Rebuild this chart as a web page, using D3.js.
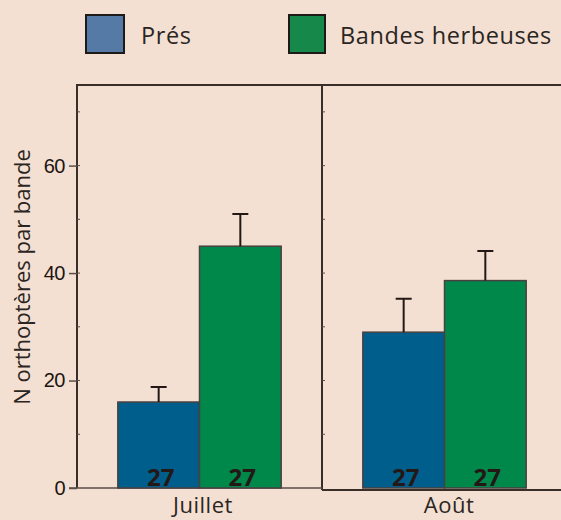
<!DOCTYPE html>
<html>
<head>
<meta charset="utf-8">
<script src="https://cdn.jsdelivr.net/npm/d3@7"></script>
<style>
  body { margin: 0; background: #f3e0d2; }
  svg { display: block; }
</style>
</head>
<body>
<div id="chart"></div>
<script>
const months = ['Juillet', 'Août'];
const seriesNames = ['Prés', 'Bandes herbeuses'];
const meanValues = [[16, 45], [29, 38.6]];     // [month][series]
const errorTops = [[18.8, 51], [35.2, 44.1]];
const sampleSizes = [[27, 27], [27, 27]];
const yTicks = [0, 20, 40, 60];

const width = 561;
const height = 520;
const colors = ['#005e8c', '#00874a'];
const legendColors = ['#557aa6', '#16884a'];
const font = 'Open Sans, Noto Sans, sans-serif';

const svg = d3.select('#chart')
    .append('svg')
    .attr('width', width)
    .attr('height', height);

svg.append('rect').attr('width', width).attr('height', height).attr('fill', '#f3e0d2');

const yScale = d3.scaleLinear().domain([0, 75]).range([488, 85]);

// panels
const panelX = d3.scaleBand().domain(months).range([77, 567]).padding(0);
const barX = d3.scaleBand().domain(seriesNames).range([0, panelX.bandwidth()]).paddingInner(0).paddingOuter(0.5);

// panel frames
const p0 = panelX(months[0]);
const p1 = panelX(months[1]);
svg.append('path')
    .attr('d', `M${p0},${yScale(0)}V${yScale(75)}H${p1}V${yScale(0) + 2}`)
    .attr('fill', 'none').attr('stroke', '#3a2e28').attr('stroke-width', 2);
svg.append('path')
    .attr('d', `M${p1},${yScale(75)}H${width}M${p1},${yScale(0) + 2}H${width}`)
    .attr('fill', 'none').attr('stroke', '#3a2e28').attr('stroke-width', 2);
svg.append('line')
    .attr('x1', 69).attr('x2', p1).attr('y1', yScale(0)).attr('y2', yScale(0))
    .attr('stroke', '#5a4e48').attr('stroke-width', 1.5);

// y axis
const yAxis = d3.axisLeft(yScale).tickValues(yTicks).tickSize(8).tickPadding(4);
const gy = svg.append('g').attr('transform', `translate(${p0},0)`).call(yAxis);
gy.select('.domain').remove();
gy.selectAll('.tick line').attr('stroke', '#5a4e48').attr('stroke-width', 1.5);
gy.selectAll('.tick text')
    .attr('font-family', 'Liberation Sans, Arial, sans-serif')
    .attr('font-size', 20).attr('letter-spacing', -0.5).attr('fill', '#1e1410');

// minor inner ticks
const minor = d3.range(10, 75, 10);
[p0, p1].forEach(px => {
    svg.append('g').selectAll('line').data(minor).join('line')
        .attr('x1', px).attr('x2', px + 3)
        .attr('y1', d => yScale(d)).attr('y2', d => yScale(d))
        .attr('stroke', '#5a4e48').attr('stroke-width', 1);
});

svg.append('text')
    .attr('transform', `translate(30,277) rotate(-90)`)
    .attr('text-anchor', 'middle')
    .attr('font-family', font)
    .attr('font-size', 22).attr('fill', '#2b2522')
    .text('N orthoptères par bande');

// bars
months.forEach((m, mi) => {
    const g = svg.append('g').attr('transform', `translate(${panelX(m)},0)`);
    const rows = seriesNames.map((s, si) => ({
        s, si, v: meanValues[mi][si], e: errorTops[mi][si], n: sampleSizes[mi][si]
    }));
    g.selectAll('rect').data(rows).join('rect')
        .attr('x', d => barX(d.s))
        .attr('y', d => yScale(d.v))
        .attr('width', barX.bandwidth())
        .attr('height', d => yScale(0) - yScale(d.v))
        .attr('fill', d => colors[d.si])
        .attr('stroke', '#4a4040').attr('stroke-width', 1.5);
    const cx = d => barX(d.s) + barX.bandwidth() / 2;
    g.selectAll('.err').data(rows).join('path').attr('class', 'err')
        .attr('d', d => `M${cx(d)},${yScale(d.v)}V${yScale(d.e)}M${cx(d) - 8},${yScale(d.e)}H${cx(d) + 8}`)
        .attr('fill', 'none').attr('stroke', '#231815').attr('stroke-width', 2);
    g.selectAll('.n').data(rows).join('text').attr('class', 'n')
        .attr('x', d => cx(d) + 2)
        .attr('y', yScale(0) - 2)
        .attr('text-anchor', 'middle')
        .attr('font-family', font)
        .attr('font-weight', 'bold')
        .attr('font-size', 24).attr('fill', '#231815')
        .text(d => d.n);
});

// x labels
svg.selectAll('.xl').data(months).join('text').attr('class', 'xl')
    .attr('x', (d, i) => i === 0 ? 203 : 449)
    .attr('y', 513)
    .attr('text-anchor', 'middle')
    .attr('font-family', font)
    .attr('font-size', 22).attr('letter-spacing', 0.5).attr('fill', '#2b2522')
    .text(d => d);

// legend
const legendX = [86, 289];
const legendW = [38, 36];
const legendTextX = [55, 51];
const lg = svg.append('g').selectAll('g').data(seriesNames).join('g')
    .attr('transform', (d, i) => `translate(${legendX[i]},15)`);
lg.append('rect')
    .attr('width', (d, i) => legendW[i]).attr('height', 38)
    .attr('fill', (d, i) => legendColors[i])
    .attr('stroke', '#1e1a18').attr('stroke-width', 2);
lg.append('text')
    .attr('x', (d, i) => legendTextX[i]).attr('y', 29)
    .attr('font-family', font)
    .attr('font-size', 23.5).attr('letter-spacing', 0.6).attr('fill', '#2b2522')
    .text(d => d);
</script>
</body>
</html>
